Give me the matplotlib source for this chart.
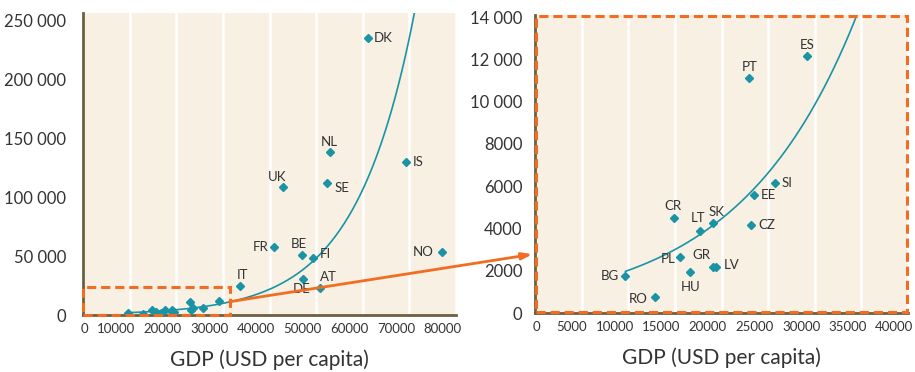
import numpy as np
import matplotlib
matplotlib.use("Agg")
import matplotlib.pyplot as plt
import matplotlib.transforms as mtransforms
from matplotlib.patches import Rectangle, ConnectionPatch

plt.rcParams["font.family"] = ["Lato", "DejaVu Sans"]

# country codes, GDP per capita (USD) and y value
countries = ["DK", "NL", "IS", "SE", "UK", "FR", "NO", "BE", "FI", "DE", "AT", "IT",
             "ES", "PT", "SI", "EE", "CZ", "CR", "SK", "LT", "PL", "GR", "LV", "HU",
             "BG", "RO"]
gdp = [61200, 52900, 69200, 52400, 42900, 41000, 76900, 46900, 49300, 47100, 50900, 33600,
       29200, 23000, 25700, 23500, 23200, 14900, 19050, 17650, 15550, 19050, 19450, 16650,
       9700, 12850]
value = [234700, 138400, 129400, 111600, 108700, 57900, 53700, 50600, 48600, 30500, 22900, 24600,
         12170, 11120, 6140, 5580, 4150, 4490, 4270, 3880, 2640, 2200, 2200, 1930,
         1770, 780]

# label offsets (points) per panel
left_labels = {"DK": (4, 0, "left"), "NL": (0, 7, "center"), "IS": (5, 0, "left"),
               "SE": (5, -3, "left"), "UK": (-4, 7, "center"), "FR": (-4, 0, "right"),
               "NO": (-6, 0, "right"), "BE": (-2, 8, "center"), "FI": (5, 3, "left"),
               "DE": (-1, -7, "center"), "AT": (6, 8, "center"), "IT": (2, 8, "center")}
right_labels = {"ES": (0, 8, "center"), "PT": (0, 8, "center"), "SI": (5, 0, "left"),
                "EE": (5, 0, "left"), "CZ": (5, 0, "left"), "CR": (-1, 9, "center"),
                "SK": (3, 8, "center"), "LT": (-1, 9, "center"), "PL": (-3, -1, "right"),
                "GR": (-8, 8, "center"), "LV": (5, 1, "left"), "HU": (0, -11, "center"),
                "BG": (-5, 0, "right"), "RO": (-5, -2, "right")}

# exponential trend y = a * exp(b * x)
trend_b = 7.93e-5
trend_a = 1970 * np.exp(-trend_b * 9700)

BG = "#f7f0e3"
TEAL = "#1a93a5"
ORANGE = "#f26d21"
OLIVE = "#6b6140"
TXT = "#333333"

fig = plt.figure(figsize=(9.15, 3.72), dpi=100)
ax1 = fig.add_axes([83 / 915, 1 - 315 / 372, (456 - 83) / 915, (315 - 13) / 372])
ax2 = fig.add_axes([535 / 915, 1 - 313 / 372, (908 - 535) / 915, (313 - 15) / 372])

xs = np.linspace(9700, 80000, 400)
ys = trend_a * np.exp(trend_b * xs)

for ax, xmax, ymax, labels in [(ax1, 80000, 256000, left_labels),
                               (ax2, 40000, 14100, right_labels)]:
    ax.set_facecolor(BG)
    ax.set_xlim(0, xmax)
    ax.set_ylim(0, ymax)
    for s in ("top", "right"):
        ax.spines[s].set_visible(False)
    for s in ("left", "bottom"):
        ax.spines[s].set_color(OLIVE)
        ax.spines[s].set_linewidth(2)
    ax.grid(True, axis="x", color="white", lw=1.8)
    ax.set_axisbelow(True)
    ax.plot(xs, ys, color=TEAL, lw=1.2, zorder=3)
    ax.plot(gdp, value, "D", color=TEAL, ms=4.5, zorder=4)
    for c, x, y in zip(countries, gdp, value):
        if c in labels:
            dx, dy, ha = labels[c]
            ax.annotate(c, (x, y), xytext=(dx, dy), textcoords="offset points",
                        ha=ha, va="center", fontsize=9.5, color=TXT, zorder=5)
    ax.tick_params(axis="x", length=0, labelsize=9.5, labelcolor=TXT, pad=6)
    ax.tick_params(axis="y", length=0, labelsize=12, labelcolor=TXT)
    ax.set_xlabel("GDP (USD per capita)", fontsize=15, color=TXT, labelpad=10)

ax1.set_xticks(np.arange(0, 80001, 10000))
ax1.set_xticklabels([f"{v:d}" for v in range(0, 80001, 10000)])
ax1.set_yticks(np.arange(0, 250001, 50000))
ax1.set_yticklabels(["0", "50 000", "100 000", "150 000", "200 000", "250 000"])
ax1.tick_params(axis="y", pad=12)

ax2.set_xticks(np.arange(0, 40001, 5000))
ax2.set_xticklabels([f"{v:d}" for v in range(0, 40001, 5000)])
ax2.set_yticks(np.arange(0, 14001, 2000))
ax2.set_yticklabels(["0", "2000", "4000", "6000", "8000", "10 000", "12 000", "14 000"])
ax2.tick_params(axis="y", pad=9)

# x tick labels sit right-aligned just past their gridline
off = mtransforms.ScaledTranslation(4 / 72, 0, fig.dpi_scale_trans)
for ax in (ax1, ax2):
    for lbl in ax.get_xticklabels():
        lbl.set_ha("right")
        lbl.set_transform(lbl.get_transform() + off)

# zoom box on the left panel
ax1.add_patch(Rectangle((0, 0), 31500, 24000, fill=False, edgecolor=ORANGE,
                        lw=2.2, ls=(0, (3, 1.6)), zorder=6, clip_on=False))
# dashed frame round the right panel
ax2.add_patch(Rectangle((0.003, 0.005), 0.994, 0.99, transform=ax2.transAxes,
                        fill=False, edgecolor=ORANGE, lw=2.2, ls=(0, (3, 1.6)),
                        zorder=6, clip_on=False))

arrow = ConnectionPatch(xyA=(31500, 11300), coordsA=ax1.transData,
                        xyB=(-0.007, 0.197), coordsB=ax2.transAxes,
                        arrowstyle="-|>,head_length=0.6,head_width=0.2",
                        color=ORANGE, lw=2, zorder=7, shrinkA=0, shrinkB=0)
fig.add_artist(arrow)

fig.savefig("out.png", dpi=100)
